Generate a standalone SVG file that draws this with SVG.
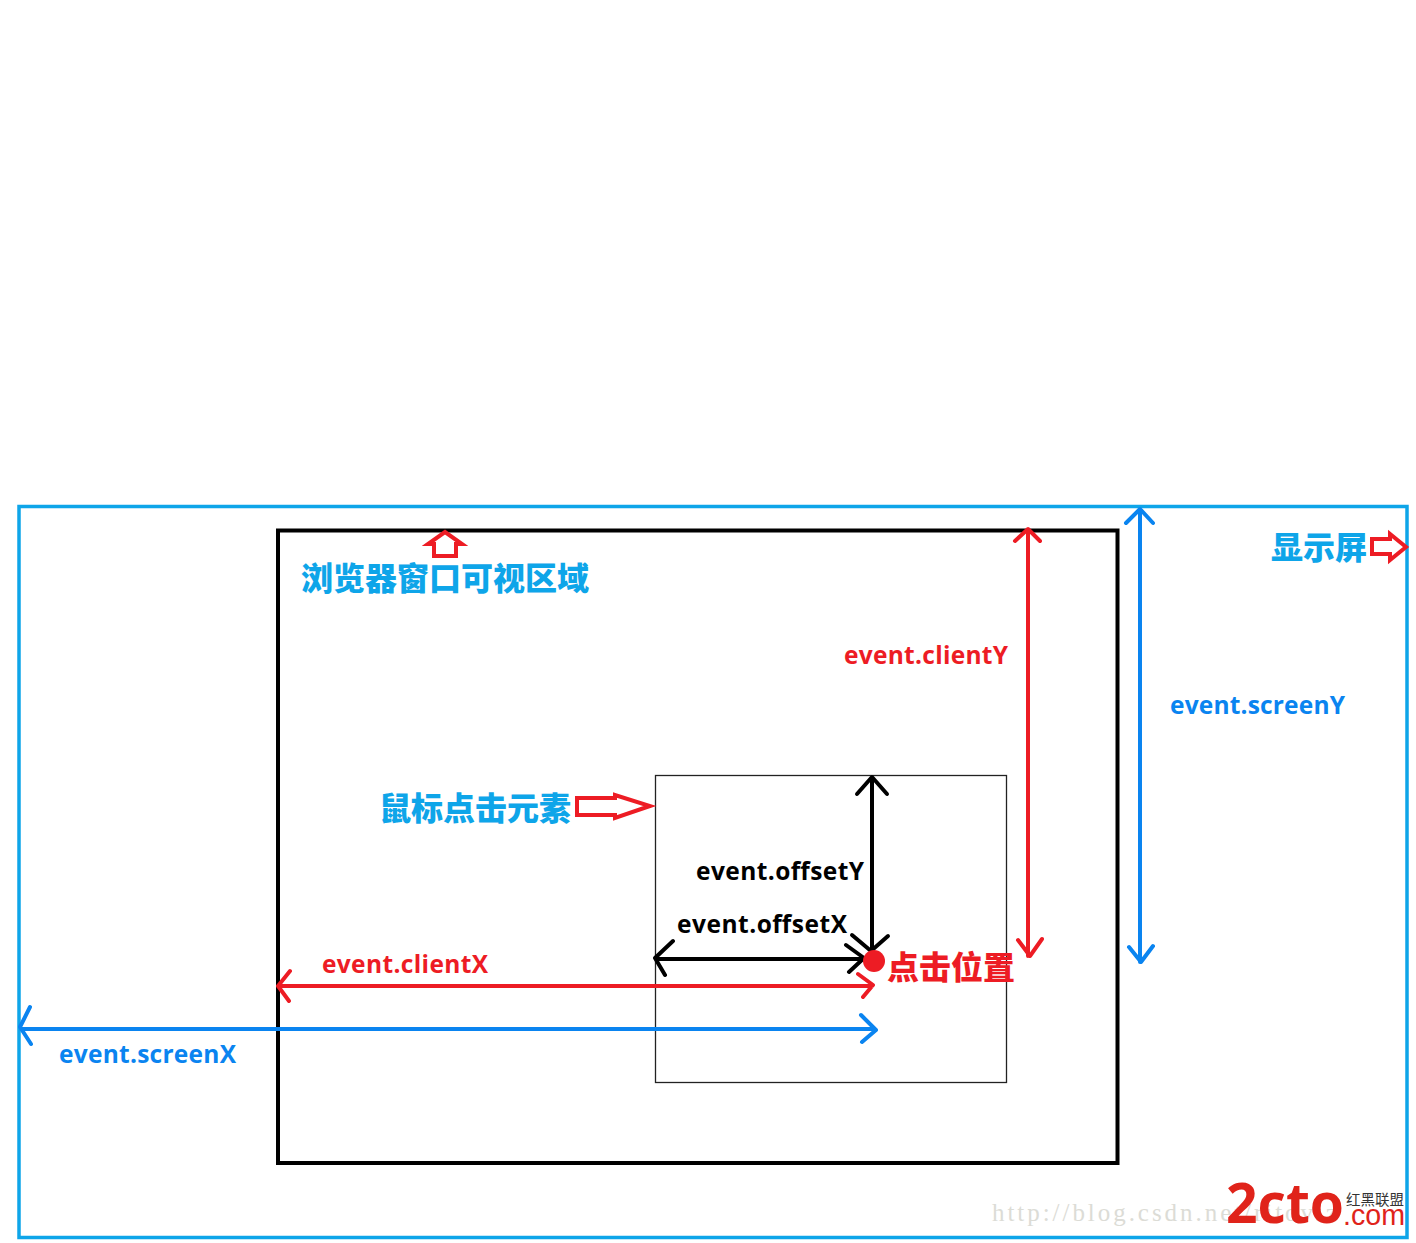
<svg xmlns="http://www.w3.org/2000/svg" width="1416" height="1243" viewBox="0 0 1416 1243">
<style>
.box{fill:none}
.ar{fill:none;stroke-width:4;stroke-linecap:round;stroke-linejoin:round}
.r{stroke:#ed1c24}.b{stroke:#0a84f0}.k{stroke:#000}
.ev{font-family:"Open Sans","Liberation Sans",sans-serif;font-weight:700;font-size:24.500px}
.cn{font-family:"Noto Sans CJK SC",sans-serif;font-weight:900;font-size:32px}
.cy{fill:#0ea5e9}
.hol{fill:#fff;stroke:#ed1c24;stroke-width:4;stroke-linejoin:miter}
</style>
<rect width="1416" height="1243" fill="#fff"/>
<g id="screen"><rect class="box" x="19" y="506.500" width="1388" height="731" stroke="#0ea5e9" stroke-width="3.500"/></g>
<g id="viewport"><rect class="box" x="278" y="530.500" width="839.500" height="632.500" stroke="#000" stroke-width="4"/></g>
<g id="element"><rect class="box" x="655.500" y="775.500" width="351" height="307" stroke="#222" stroke-width="1.300"/></g>
<g id="watermark">
<text x="992" y="1221" font-family="'Liberation Serif',serif" font-size="25" fill="#dcdcd6" textLength="345">http://blog.csdn.net/ritoviz</text>
<text x="1226" y="1223" font-family="'Open Sans','Liberation Sans',sans-serif" font-weight="700" font-size="56" fill="#e0231a" textLength="118" lengthAdjust="spacingAndGlyphs">2cto</text>
<text x="1346" y="1205" font-family="'Noto Sans CJK SC',sans-serif" font-size="14.500" fill="#333">红黑联盟</text>
<text x="1343" y="1225" font-family="'Liberation Sans',sans-serif" font-size="29" fill="#e0231a" textLength="62" lengthAdjust="spacingAndGlyphs">.com</text>
</g>
<g id="connectors">
<path class="ar r" d="M1028 530V956M1015 541L1028 529L1040 541M1018 940L1030 956L1042 939"/>
<path class="ar b" d="M1140 510V962M1126 523L1140 509L1153 523M1129 947L1141 962L1153 946"/>
<path class="ar k" d="M872 778V950M857 794L872 777L887 794M852 935L871 951L888 936"/>
<path class="ar k" d="M656 959H862M673 941L655 958L665 975M846 945L864 958L849 972"/>
<path class="ar r" d="M280 986H872M290 971L278 986L289 1001M858 974L873 985L863 997"/>
<path class="ar b" d="M22 1029H875M30 1007L20 1027L31 1044M861 1015L876 1030L862 1042"/>
<path class="hol" d="M434 556V544H428L445 532L462 544H456V556Z"/>
<path class="hol" d="M577 798H615V795L650 806L615 818V815H577Z"/>
<path class="hol" d="M1372 539H1390V534L1406 547L1390 560V554H1372Z"/>
</g>
<g id="click-point"><circle cx="874" cy="961" r="11" fill="#ed1c24"/></g>
<g id="labels">
<text class="cn cy" x="301" y="590">浏览器窗口可视区域</text>
<text class="cn cy" x="379" y="820">鼠标点击元素</text>
<text class="cn cy" x="1271" y="559">显示屏</text>
<text class="cn" x="887" y="979" fill="#ed1c24">点击位置</text>
<text class="ev" x="844" y="664" fill="#ed1c24" textLength="164">event.clientY</text>
<text class="ev" x="322" y="973" fill="#ed1c24" textLength="166">event.clientX</text>
<text class="ev" x="1170" y="714" fill="#0a84f0" textLength="175">event.screenY</text>
<text class="ev" x="59" y="1063" fill="#0a84f0" textLength="177">event.screenX</text>
<text class="ev" x="696" y="880" fill="#000" textLength="168">event.offsetY</text>
<text class="ev" x="677" y="933" fill="#000" textLength="170">event.offsetX</text>
</g>
</svg>
